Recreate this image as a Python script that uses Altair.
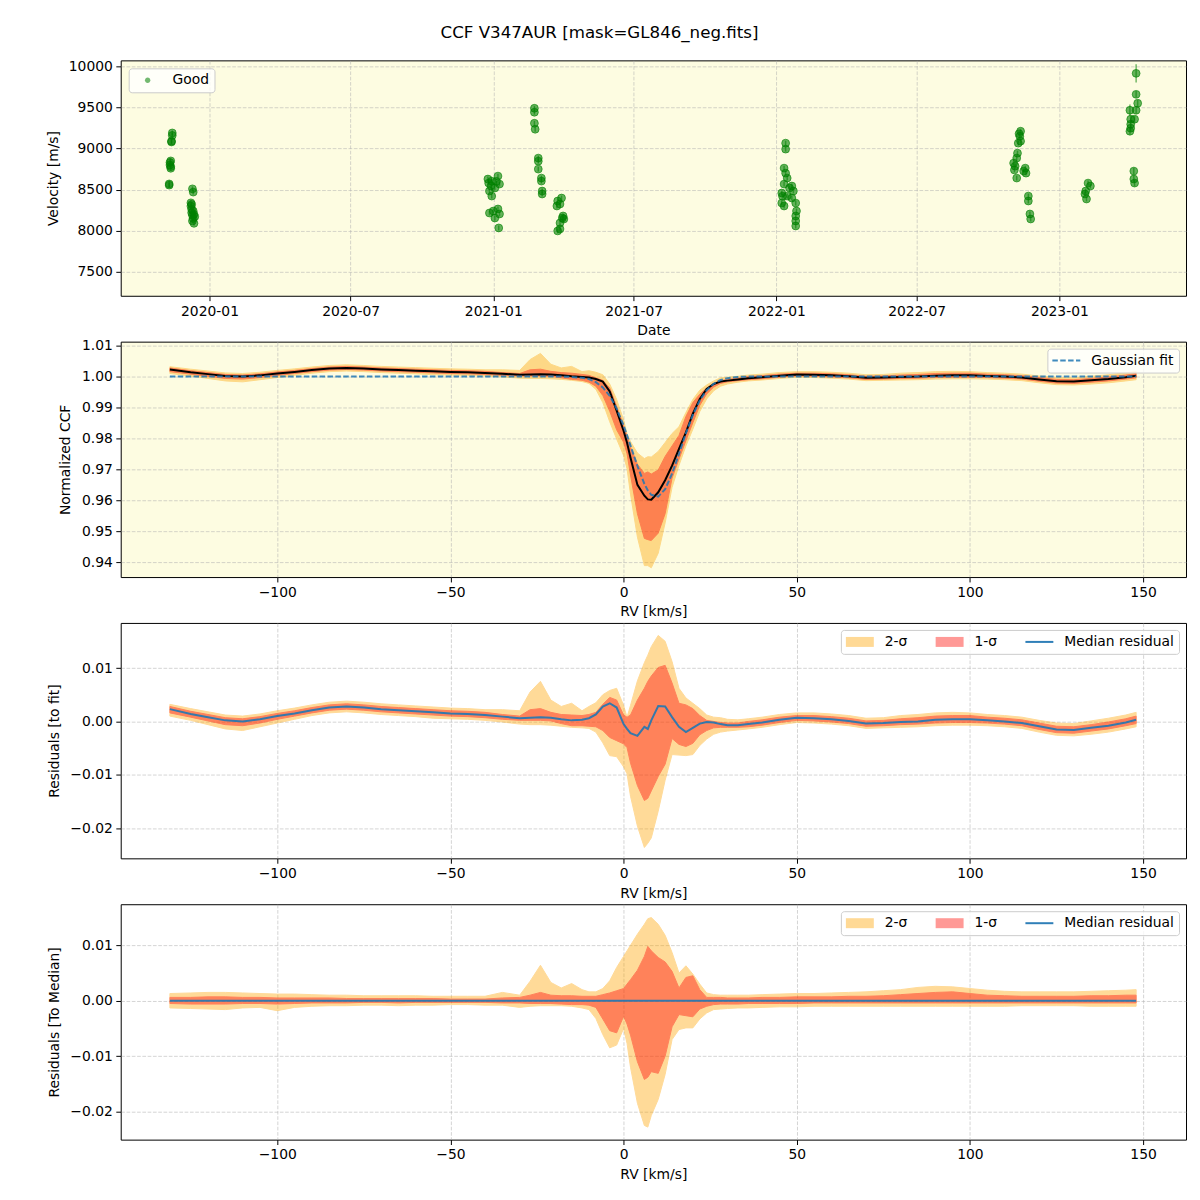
import altair as alt
import pandas as pd

TITLE = "CCF V347AUR [mask=GL846_neg.fits]"

# ---------------- Panel 1: velocity time series ----------------
rv_dates = [
    "2019-11-10", "2019-11-10", "2019-11-11", "2019-11-11", "2019-11-12", "2019-11-12", "2019-11-12",
    "2019-11-13", "2019-11-13", "2019-11-14", "2019-11-14",
    "2019-12-10", "2019-12-11", "2019-12-08", "2019-12-08", "2019-12-09", "2019-12-09", "2019-12-10",
    "2019-12-11", "2019-12-10", "2019-12-12", "2019-12-12", "2019-12-09", "2019-12-13", "2019-12-11",
    "2020-12-25", "2020-12-30", "2021-01-07", "2021-01-03", "2020-12-27", "2020-12-30", "2021-01-09",
    "2021-01-01", "2021-01-07", "2021-01-09", "2021-01-03", "2021-01-08", "2020-12-27", "2020-12-26",
    "2021-01-05", "2020-12-29",
    "2021-02-23", "2021-02-23", "2021-02-23", "2021-02-24",
    "2021-02-28", "2021-02-28", "2021-02-28", "2021-03-04", "2021-03-04", "2021-03-05", "2021-03-05",
    "2021-03-25", "2021-03-30", "2021-03-24", "2021-03-28", "2021-03-31", "2021-03-28", "2021-03-28",
    "2021-04-02", "2021-03-25", "2021-04-01",
    "2022-01-13", "2022-01-13", "2022-01-11", "2022-01-13", "2022-01-15", "2022-01-11", "2022-01-21",
    "2022-01-23", "2022-01-08", "2022-01-15", "2022-01-21", "2022-01-08", "2022-01-26", "2022-01-11",
    "2022-01-27", "2022-01-26", "2022-01-26", "2022-01-26", "2022-01-18", "2022-01-09",
    "2022-11-12", "2022-11-11", "2022-11-12", "2022-11-09", "2022-11-08", "2022-11-07", "2022-11-03",
    "2022-11-05", "2022-11-07", "2022-11-18", "2022-11-19", "2022-11-16", "2022-11-22", "2022-11-22",
    "2022-11-24", "2022-11-25", "2022-11-10", "2022-11-04",
    "2023-02-07", "2023-02-10", "2023-02-04", "2023-02-03", "2023-02-05",
    "2023-04-10", "2023-04-10", "2023-04-12", "2023-04-10", "2023-04-02", "2023-04-08", "2023-04-03",
    "2023-04-03", "2023-04-02", "2023-04-03", "2023-04-07", "2023-04-07", "2023-04-08",
]
rv_vels = [
    8570, 8555, 8830, 8800, 8780, 8850, 8760, 9090, 9080, 9190, 9160,
    8510, 8470, 8340, 8300, 8260, 8220, 8190, 8150, 8120, 8090, 8200, 8320, 8170, 8240,
    8629, 8604, 8665, 8520, 8483, 8422, 8568, 8240, 8265, 8204, 8155, 8034, 8216, 8580, 8600, 8545,
    9490, 9442, 9308, 9235,
    8884, 8847, 8750, 8641, 8604, 8483, 8447,
    8362, 8398, 8301, 8325, 8155, 8095, 8022, 8143, 7998, 8180,
    9066, 8993, 8762, 8701, 8641, 8568, 8544, 8483, 8459, 8422, 8398, 8337, 8337, 8301,
    8240, 8180, 8119, 8058, 8520, 8420,
    9211, 9150, 9090, 9066, 8944, 8884, 8823, 8786, 8641, 8762, 8701, 8726, 8422, 8362,
    8204, 8143, 9180, 8740,
    8580, 8544, 8483, 8447, 8386,
    9915, 9660, 9551, 9466, 9466, 9357, 9357, 9296, 9211, 9248, 8726, 8629, 8580,
]
rv_errs = [
    45, 30, 50, 30, 30, 30, 30, 30, 30, 30, 30,
    30, 30, 30, 30, 30, 30, 30, 30, 30, 30, 30, 30, 30, 30,
    30, 30, 30, 30, 30, 30, 30, 30, 30, 30, 30, 30, 30, 30, 30, 30,
    30, 30, 30, 30,
    30, 30, 30, 30, 30, 30, 30,
    30, 30, 30, 30, 30, 30, 30, 30, 30, 30,
    30, 30, 30, 30, 30, 30, 30, 30, 30, 30, 30, 30, 30, 30,
    30, 30, 30, 30, 30, 30,
    30, 30, 30, 30, 30, 30, 30, 30, 30, 30, 30, 30, 30, 30,
    30, 30, 30, 30,
    30, 30, 30, 30, 30,
    110, 40, 40, 40, 70, 40, 40, 40, 40, 40, 40, 40, 40,
]
date_ticks = [(2020, 1), (2020, 7), (2021, 1), (2021, 7), (2022, 1), (2022, 7), (2023, 1)]
vel_ticks = [7500, 8000, 8500, 9000, 9500, 10000]

# ---------------- CCF panels: common RV grid ----------------
rv_grid = [
    -131, -125, -120, -115, -110, -105, -100, -95, -90, -85,
    -80, -75, -70, -65, -60, -55, -50, -45, -40, -35,
    -30, -27, -24, -21, -18, -15, -12, -10, -8, -6,
    -4, -2, 0, 1, 2, 4, 6, 7, 8, 10,
    12, 14, 16, 18, 20, 22, 24, 26, 28, 30,
    33, 36, 40, 45, 50, 55, 60, 65, 70, 75,
    80, 85, 90, 95, 100, 105, 110, 115, 120, 125,
    130, 135, 140, 145, 148,
]

# Panel 2: normalized CCF
p2_fit = [
    1.0000, 1.0000, 1.0000, 1.0000, 1.0000, 1.0000, 1.0000, 1.0000, 1.0000, 1.0000,
    1.0000, 1.0000, 1.0000, 1.0000, 1.0000, 1.0000, 1.0000, 1.0000, 1.0000, 1.0000,
    1.0000, 1.0000, 1.0000, 1.0000, 1.0000, 0.9999, 0.9996, 0.9992, 0.9982, 0.9965,
    0.9938, 0.9897, 0.9842, 0.9810, 0.9777, 0.9711, 0.9653, 0.9632, 0.9618, 0.9612,
    0.9636, 0.9686, 0.9750, 0.9817, 0.9876, 0.9923, 0.9956, 0.9977, 0.9989, 0.9995,
    0.9999, 1.0000, 1.0000, 1.0000, 1.0000, 1.0000, 1.0000, 1.0000, 1.0000, 1.0000,
    1.0000, 1.0000, 1.0000, 1.0000, 1.0000, 1.0000, 1.0000, 1.0000, 1.0000, 1.0000,
    1.0000, 1.0000, 1.0000, 1.0000, 1.0000,
]
p2_med = [
    1.0023, 1.0014, 1.0008, 1.0002, 1.0000, 1.0004, 1.0010, 1.0015, 1.0021, 1.0026,
    1.0028, 1.0026, 1.0023, 1.0021, 1.0019, 1.0017, 1.0015, 1.0014, 1.0012, 1.0009,
    1.0006, 1.0007, 1.0008, 1.0007, 1.0004, 1.0001, 0.9999, 0.9997, 0.9992, 0.9984,
    0.9952, 0.9890, 0.9825, 0.9786, 0.9738, 0.9650, 0.9615, 0.9603, 0.9602, 0.9626,
    0.9665, 0.9712, 0.9766, 0.9820, 0.9880, 0.9928, 0.9960, 0.9976, 0.9984, 0.9987,
    0.9991, 0.9995, 0.9998, 1.0003, 1.0007, 1.0006, 1.0004, 1.0001, 0.9996, 0.9997,
    0.9999, 1.0000, 1.0003, 1.0004, 1.0004, 1.0002, 1.0000, 0.9997, 0.9991, 0.9985,
    0.9984, 0.9988, 0.9992, 0.9998, 1.0003,
]
p2_s2lo = [
    1.0010, 1.0002, 0.9994, 0.9986, 0.9983, 0.9990, 0.9997, 1.0004, 1.0011, 1.0016,
    1.0018, 1.0016, 1.0013, 1.0011, 1.0009, 1.0006, 1.0005, 1.0004, 1.0002, 0.9999,
    0.9995, 0.9994, 0.9994, 0.9993, 0.9991, 0.9988, 0.9984, 0.9978, 0.9959, 0.9916,
    0.9854, 0.9798, 0.9745, 0.9702, 0.9620, 0.9481, 0.9389, 0.9389, 0.9382, 0.9429,
    0.9527, 0.9642, 0.9713, 0.9776, 0.9830, 0.9887, 0.9928, 0.9954, 0.9969, 0.9976,
    0.9982, 0.9986, 0.9989, 0.9994, 0.9998, 0.9997, 0.9995, 0.9992, 0.9987, 0.9988,
    0.9989, 0.9990, 0.9992, 0.9993, 0.9993, 0.9992, 0.9990, 0.9987, 0.9980, 0.9974,
    0.9973, 0.9976, 0.9980, 0.9986, 0.9990,
]
p2_s1lo = [
    1.0016, 1.0008, 1.0001, 0.9994, 0.9992, 0.9997, 1.0004, 1.0010, 1.0016, 1.0021,
    1.0023, 1.0021, 1.0018, 1.0016, 1.0014, 1.0012, 1.0010, 1.0009, 1.0007, 1.0004,
    1.0002, 1.0002, 1.0002, 1.0001, 0.9996, 0.9991, 0.9988, 0.9982, 0.9969, 0.9939,
    0.9888, 0.9828, 0.9788, 0.9751, 0.9682, 0.9557, 0.9477, 0.9473, 0.9470, 0.9494,
    0.9557, 0.9672, 0.9733, 0.9793, 0.9851, 0.9907, 0.9944, 0.9966, 0.9978, 0.9983,
    0.9987, 0.9990, 0.9993, 0.9998, 1.0002, 1.0001, 0.9999, 0.9996, 0.9991, 0.9992,
    0.9994, 0.9995, 0.9997, 0.9998, 0.9998, 0.9997, 0.9995, 0.9992, 0.9985, 0.9979,
    0.9978, 0.9982, 0.9986, 0.9992, 0.9996,
]
p2_s1hi = [
    1.0028, 1.0019, 1.0013, 1.0007, 1.0005, 1.0009, 1.0015, 1.0020, 1.0026, 1.0031,
    1.0033, 1.0031, 1.0028, 1.0026, 1.0024, 1.0022, 1.0020, 1.0019, 1.0017, 1.0013,
    1.0010, 1.0022, 1.0024, 1.0017, 1.0013, 1.0011, 1.0007, 1.0004, 0.9996, 0.9988,
    0.9963, 0.9904, 0.9842, 0.9808, 0.9772, 0.9717, 0.9687, 0.9692, 0.9685, 0.9698,
    0.9742, 0.9776, 0.9810, 0.9871, 0.9916, 0.9943, 0.9963, 0.9978, 0.9987, 0.9991,
    0.9995, 1.0000, 1.0003, 1.0008, 1.0011, 1.0011, 1.0009, 1.0006, 1.0001, 1.0002,
    1.0005, 1.0007, 1.0010, 1.0011, 1.0011, 1.0008, 1.0006, 1.0003, 0.9997, 0.9991,
    0.9990, 0.9994, 0.9999, 1.0005, 1.0010,
]
p2_s2hi = [
    1.0032, 1.0024, 1.0018, 1.0012, 1.0010, 1.0014, 1.0020, 1.0025, 1.0031, 1.0036,
    1.0038, 1.0036, 1.0033, 1.0031, 1.0029, 1.0027, 1.0025, 1.0024, 1.0022, 1.0022,
    1.0020, 1.0055, 1.0075, 1.0040, 1.0028, 1.0033, 1.0016, 1.0019, 1.0014, 1.0006,
    0.9976, 0.9926, 0.9860, 0.9815, 0.9790, 0.9753, 0.9735, 0.9741, 0.9740, 0.9758,
    0.9787, 0.9816, 0.9838, 0.9884, 0.9926, 0.9956, 0.9973, 0.9986, 0.9996, 0.9998,
    1.0001, 1.0005, 1.0008, 1.0013, 1.0016, 1.0016, 1.0014, 1.0011, 1.0006, 1.0007,
    1.0011, 1.0013, 1.0016, 1.0017, 1.0016, 1.0013, 1.0011, 1.0008, 1.0002, 0.9997,
    0.9996, 1.0001, 1.0006, 1.0012, 1.0017,
]

# Panel 3: residuals to fit
p3_med = [
    0.0023, 0.0014, 0.0008, 0.0002, 0.0000, 0.0004, 0.0010, 0.0015, 0.0021, 0.0026,
    0.0028, 0.0026, 0.0023, 0.0021, 0.0019, 0.0017, 0.0015, 0.0014, 0.0012, 0.0009,
    0.0006, 0.0007, 0.0008, 0.0007, 0.0004, 0.0002, 0.0003, 0.0006, 0.0013, 0.0028,
    0.0034, 0.0026, -0.0005, -0.0014, -0.0022, -0.0027, -0.0010, -0.0014, 0.0002, 0.0029,
    0.0028, 0.0008, -0.0010, -0.0020, -0.0012, -0.0004, -0.0001, -0.0002, -0.0005, -0.0007,
    -0.0007, -0.0005, -0.0002, 0.0003, 0.0007, 0.0006, 0.0004, 0.0001, -0.0004, -0.0003,
    -0.0001, 0.0000, 0.0003, 0.0004, 0.0004, 0.0002, 0.0000, -0.0003, -0.0009, -0.0015,
    -0.0016, -0.0012, -0.0008, -0.0002, 0.0003,
]
p3_s2lo = [
    0.0010, 0.0002, -0.0006, -0.0014, -0.0017, -0.0010, -0.0003, 0.0004, 0.0011, 0.0016,
    0.0018, 0.0016, 0.0013, 0.0011, 0.0009, 0.0006, 0.0005, 0.0004, 0.0002, -0.0001,
    -0.0005, -0.0006, -0.0006, -0.0007, -0.0009, -0.0011, -0.0012, -0.0013, -0.0020, -0.0040,
    -0.0064, -0.0066, -0.0085, -0.0098, -0.0140, -0.0196, -0.0236, -0.0228, -0.0218, -0.0168,
    -0.0110, -0.0062, -0.0063, -0.0064, -0.0062, -0.0045, -0.0033, -0.0024, -0.0020, -0.0018,
    -0.0016, -0.0014, -0.0011, -0.0006, -0.0002, -0.0003, -0.0005, -0.0008, -0.0013, -0.0012,
    -0.0011, -0.0010, -0.0008, -0.0007, -0.0007, -0.0008, -0.0010, -0.0013, -0.0020, -0.0026,
    -0.0027, -0.0024, -0.0020, -0.0014, -0.0010,
]
p3_s1lo = [
    0.0016, 0.0008, 0.0001, -0.0006, -0.0008, -0.0003, 0.0004, 0.0010, 0.0016, 0.0021,
    0.0023, 0.0021, 0.0018, 0.0016, 0.0014, 0.0012, 0.0010, 0.0009, 0.0007, 0.0004,
    0.0002, 0.0002, 0.0002, 0.0001, -0.0004, -0.0008, -0.0008, -0.0009, -0.0010, -0.0017,
    -0.0030, -0.0036, -0.0042, -0.0049, -0.0078, -0.0120, -0.0148, -0.0144, -0.0130, -0.0103,
    -0.0080, -0.0032, -0.0043, -0.0047, -0.0041, -0.0025, -0.0017, -0.0012, -0.0011, -0.0011,
    -0.0011, -0.0010, -0.0007, -0.0002, 0.0002, 0.0001, -0.0001, -0.0004, -0.0009, -0.0008,
    -0.0006, -0.0005, -0.0003, -0.0002, -0.0002, -0.0003, -0.0005, -0.0008, -0.0015, -0.0021,
    -0.0022, -0.0018, -0.0014, -0.0008, -0.0004,
]
p3_s1hi = [
    0.0028, 0.0019, 0.0013, 0.0007, 0.0005, 0.0009, 0.0015, 0.0020, 0.0026, 0.0031,
    0.0033, 0.0031, 0.0028, 0.0026, 0.0024, 0.0022, 0.0020, 0.0019, 0.0017, 0.0013,
    0.0010, 0.0022, 0.0024, 0.0017, 0.0013, 0.0012, 0.0011, 0.0013, 0.0017, 0.0032,
    0.0045, 0.0040, 0.0012, 0.0008, 0.0012, 0.0040, 0.0062, 0.0075, 0.0085, 0.0101,
    0.0105, 0.0072, 0.0034, 0.0031, 0.0024, 0.0011, 0.0002, 0.0000, -0.0002, -0.0003,
    -0.0003, 0.0000, 0.0003, 0.0008, 0.0011, 0.0011, 0.0009, 0.0006, 0.0001, 0.0002,
    0.0005, 0.0007, 0.0010, 0.0011, 0.0011, 0.0008, 0.0006, 0.0003, -0.0003, -0.0009,
    -0.0010, -0.0006, -0.0001, 0.0005, 0.0010,
]
p3_s2hi = [
    0.0032, 0.0024, 0.0018, 0.0012, 0.0010, 0.0014, 0.0020, 0.0025, 0.0031, 0.0036,
    0.0038, 0.0036, 0.0033, 0.0031, 0.0029, 0.0027, 0.0025, 0.0024, 0.0022, 0.0022,
    0.0020, 0.0055, 0.0075, 0.0040, 0.0028, 0.0034, 0.0020, 0.0028, 0.0035, 0.0050,
    0.0058, 0.0062, 0.0030, 0.0008, 0.0030, 0.0076, 0.0110, 0.0124, 0.0140, 0.0161,
    0.0150, 0.0112, 0.0062, 0.0044, 0.0034, 0.0024, 0.0012, 0.0008, 0.0007, 0.0004,
    0.0003, 0.0005, 0.0008, 0.0013, 0.0016, 0.0016, 0.0014, 0.0011, 0.0006, 0.0007,
    0.0011, 0.0013, 0.0016, 0.0017, 0.0016, 0.0013, 0.0011, 0.0008, 0.0002, -0.0003,
    -0.0004, 0.0001, 0.0006, 0.0012, 0.0017,
]

# Panel 4: residuals to median
p4_med = [
    0, 0, 0, 0, 0, 0, 0, 0, 0, 0,
    0, 0, 0, 0, 0, 0, 0, 0, 0, 0,
    0, 0, 0, 0, 0, 0, 0, 0, 0, 0,
    0, 0, 0, 0, 0, 0, 0, 0, 0, 0,
    0, 0, 0, 0, 0, 0, 0, 0, 0, 0,
    0, 0, 0, 0, 0, 0, 0, 0, 0, 0,
    0, 0, 0, 0, 0, 0, 0, 0, 0, 0,
    0, 0, 0, 0, 0,
]
p4_s2lo = [
    -0.0013, -0.0014, -0.0015, -0.0016, -0.0013, -0.0012, -0.0018, -0.0012, -0.0010, -0.0009,
    -0.0009, -0.0008, -0.0008, -0.0009, -0.0008, -0.0008, -0.0007, -0.0007, -0.0008, -0.0008,
    -0.0012, -0.0010, -0.0009, -0.0009, -0.0009, -0.0010, -0.0013, -0.0016, -0.0032, -0.0061,
    -0.0085, -0.0080, -0.0050, -0.0077, -0.0120, -0.0185, -0.0225, -0.0228, -0.0207, -0.0178,
    -0.0133, -0.0070, -0.0052, -0.0049, -0.0049, -0.0033, -0.0022, -0.0016, -0.0015, -0.0014,
    -0.0013, -0.0013, -0.0012, -0.0011, -0.0011, -0.0010, -0.0010, -0.0010, -0.0010, -0.0010,
    -0.0010, -0.0010, -0.0010, -0.0010, -0.0010, -0.0010, -0.0010, -0.0009, -0.0009, -0.0009,
    -0.0009, -0.0010, -0.0010, -0.0010, -0.0010,
]
p4_s1lo = [
    -0.0005, -0.0006, -0.0006, -0.0006, -0.0005, -0.0005, -0.0006, -0.0005, -0.0004, -0.0004,
    -0.0004, -0.0003, -0.0003, -0.0004, -0.0003, -0.0003, -0.0003, -0.0003, -0.0003, -0.0004,
    -0.0004, -0.0005, -0.0005, -0.0005, -0.0006, -0.0007, -0.0007, -0.0008, -0.0012, -0.0033,
    -0.0054, -0.0058, -0.0028, -0.0042, -0.0062, -0.0110, -0.0142, -0.0138, -0.0128, -0.0131,
    -0.0100, -0.0047, -0.0025, -0.0027, -0.0029, -0.0015, -0.0010, -0.0007, -0.0006, -0.0006,
    -0.0006, -0.0005, -0.0005, -0.0005, -0.0005, -0.0004, -0.0004, -0.0004, -0.0004, -0.0004,
    -0.0004, -0.0004, -0.0004, -0.0004, -0.0004, -0.0004, -0.0004, -0.0004, -0.0004, -0.0004,
    -0.0004, -0.0004, -0.0004, -0.0004, -0.0004,
]
p4_s1hi = [
    0.0006, 0.0006, 0.0007, 0.0007, 0.0006, 0.0006, 0.0005, 0.0005, 0.0005, 0.0005,
    0.0004, 0.0004, 0.0004, 0.0004, 0.0004, 0.0004, 0.0003, 0.0003, 0.0003, 0.0005,
    0.0006, 0.0010, 0.0015, 0.0010, 0.0009, 0.0009, 0.0008, 0.0008, 0.0008, 0.0011,
    0.0014, 0.0018, 0.0022, 0.0030, 0.0038, 0.0055, 0.0080, 0.0098, 0.0090, 0.0078,
    0.0070, 0.0053, 0.0023, 0.0042, 0.0045, 0.0020, 0.0006, 0.0006, 0.0006, 0.0005,
    0.0005, 0.0005, 0.0006, 0.0006, 0.0007, 0.0007, 0.0007, 0.0008, 0.0008, 0.0009,
    0.0011, 0.0013, 0.0015, 0.0016, 0.0013, 0.0010, 0.0009, 0.0008, 0.0008, 0.0008,
    0.0008, 0.0009, 0.0009, 0.0010, 0.0010,
]
p4_s2hi = [
    0.0013, 0.0014, 0.0015, 0.0015, 0.0014, 0.0013, 0.0012, 0.0012, 0.0011, 0.0010,
    0.0010, 0.0009, 0.0009, 0.0009, 0.0009, 0.0008, 0.0008, 0.0008, 0.0008, 0.0015,
    0.0010, 0.0035, 0.0064, 0.0033, 0.0023, 0.0031, 0.0020, 0.0016, 0.0016, 0.0022,
    0.0036, 0.0060, 0.0080, 0.0090, 0.0100, 0.0120, 0.0138, 0.0148, 0.0150, 0.0138,
    0.0118, 0.0087, 0.0050, 0.0063, 0.0048, 0.0030, 0.0014, 0.0011, 0.0010, 0.0010,
    0.0010, 0.0010, 0.0011, 0.0012, 0.0013, 0.0013, 0.0014, 0.0015, 0.0016, 0.0018,
    0.0020, 0.0024, 0.0026, 0.0025, 0.0022, 0.0019, 0.0017, 0.0016, 0.0016, 0.0016,
    0.0016, 0.0017, 0.0018, 0.0019, 0.0020,
]

rv_ticks = [-100, -50, 0, 50, 100, 150]
RV_DOMAIN = [-145.2, 162.4]

FONT = "DejaVu Sans"
FS = 13.9
ORANGE = "#ffa500"
RED = "#ff0000"
BLUE = "#1f77b4"

# legend symbols: 28 px wide handles drawn from the left of each entry
RECT = "M-1.39,-1H4.21V1H-1.39Z"
LINE = "M-1.39,-0.2H4.21V0.2H-1.39Z"
STROKE = "M-1.39,0H4.21"
DOT = "M1.95,0A0.54,0.54 0 1,1 0.87,0A0.54,0.54 0 1,1 1.95,0Z"

legend_common = dict(
    title=None, fillColor="rgba(255,255,255,0.8)", strokeColor="#cccccc",
    cornerRadius=3, padding=5, labelFont=FONT, labelFontSize=FS, labelColor="black",
    symbolSize=100, labelOffset=25,
)

# ---------------- Panel 1 ----------------
df1 = pd.DataFrame({"date": rv_dates, "vel": rv_vels, "err": rv_errs})
df1["lo"] = df1["vel"] - df1["err"]
df1["hi"] = df1["vel"] + df1["err"]
df1["key"] = "Good"

x1 = alt.X(
    "date:T",
    scale=alt.Scale(type="utc", nice=False,
                    domain=[alt.DateTime(year=2019, month=9, date=8, hours=12, utc=True),
                            alt.DateTime(year=2023, month=6, date=13, hours=8, utc=True)]),
    axis=alt.Axis(title="Date", format="%Y-%m",
                  values=[alt.DateTime(year=y, month=m, date=1, utc=True) for (y, m) in date_ticks],
                  titleY=35, titleBaseline="middle"),
)
ysc1 = alt.Scale(domain=[7209, 10073], nice=False, zero=False)
yax1 = alt.Axis(title="Velocity [m/s]", values=vel_ticks, format="d", titleX=-67, titleBaseline="middle")

err1 = alt.Chart(df1).mark_rule(color="green", opacity=0.55, strokeWidth=1.5).encode(
    x=x1, y=alt.Y("lo:Q", scale=ysc1, axis=yax1), y2="hi:Q"
)
pts1 = alt.Chart(df1).mark_circle(
    size=62, opacity=1, fillOpacity=0.6, stroke="green", strokeOpacity=0.6, strokeWidth=1
).encode(
    x=x1, y=alt.Y("vel:Q", scale=ysc1, axis=yax1),
    color=alt.Color("key:N", scale=alt.Scale(domain=["Good"], range=["green"]),
                    legend=alt.Legend(orient="top-left", offset=8, symbolType=DOT,
                                      symbolOpacity=0.55, symbolStrokeWidth=0, **legend_common)),
)
panel1 = alt.layer(err1, pts1).properties(width=1068, height=236)


def rv_x():
    return alt.X("rv:Q", scale=alt.Scale(domain=RV_DOMAIN, nice=False, zero=False),
                 axis=alt.Axis(title="RV [km/s]", values=rv_ticks, format="d",
                               titleY=35, titleBaseline="middle"))


# ---------------- Panel 2 ----------------
df2 = pd.DataFrame({"rv": rv_grid, "med": p2_med, "fit": p2_fit, "s2lo": p2_s2lo,
                    "s2hi": p2_s2hi, "s1lo": p2_s1lo, "s1hi": p2_s1hi})
df2["fkey"] = "Gaussian fit"
ysc2 = alt.Scale(domain=[0.9352, 1.0113], nice=False, zero=False)
yax2 = alt.Axis(title="Normalized CCF", values=[0.94, 0.95, 0.96, 0.97, 0.98, 0.99, 1.00, 1.01],
                format=".2f", titleX=-55, titleBaseline="middle")
b2 = alt.Chart(df2)
p2_a2 = b2.mark_area(fill=ORANGE, stroke=ORANGE, strokeWidth=1, opacity=0.4).encode(
    x=rv_x(), y=alt.Y("s2lo:Q", scale=ysc2, axis=yax2), y2="s2hi:Q")
p2_a1 = b2.mark_area(fill=RED, stroke=RED, strokeWidth=1, opacity=0.4).encode(
    x=rv_x(), y=alt.Y("s1lo:Q", scale=ysc2, axis=yax2), y2="s1hi:Q")
p2_med_l = b2.mark_line(color="black", strokeWidth=2).encode(
    x=rv_x(), y=alt.Y("med:Q", scale=ysc2, axis=yax2))
p2_fit_l = b2.mark_line(strokeWidth=2, strokeDash=[5.5, 2.4], opacity=0.85).encode(
    x=rv_x(), y=alt.Y("fit:Q", scale=ysc2, axis=yax2),
    color=alt.Color("fkey:N", scale=alt.Scale(domain=["Gaussian fit"], range=[BLUE]),
                    legend=alt.Legend(orient="top-right", offset=7, symbolType=STROKE,
                                      symbolDash=[5.5, 2.4], symbolStrokeWidth=2,
                                      symbolOpacity=0.85, **legend_common)),
)
panel2 = alt.layer(p2_a2, p2_a1, p2_med_l, p2_fit_l).properties(width=1068, height=236)

# ---------------- Panels 3 and 4 ----------------
KEYS = ["2-σ", "1-σ", "Median residual"]
LEG_COLORS = ["#ffd995", "#ff9996", "#2f7fb8"]
legend_keys = pd.DataFrame({"key": KEYS})


def resid_panel(med, s2lo, s1lo, s1hi, s2hi, ydomain, ytitle, titlex):
    df = pd.DataFrame({"rv": rv_grid, "med": med, "s2lo": s2lo, "s1lo": s1lo,
                       "s1hi": s1hi, "s2hi": s2hi})
    ysc = alt.Scale(domain=ydomain, nice=False, zero=False)
    yax = alt.Axis(title=ytitle, values=[-0.02, -0.01, 0.0, 0.01], format=".2f",
                   titleX=titlex, titleBaseline="middle")
    b = alt.Chart(df)
    a2 = b.mark_area(fill=ORANGE, stroke=ORANGE, strokeWidth=1, opacity=0.4).encode(
        x=rv_x(), y=alt.Y("s2lo:Q", scale=ysc, axis=yax), y2="s2hi:Q")
    a1 = b.mark_area(fill=RED, stroke=RED, strokeWidth=1, opacity=0.4).encode(
        x=rv_x(), y=alt.Y("s1lo:Q", scale=ysc, axis=yax), y2="s1hi:Q")
    ln = b.mark_line(color=BLUE, strokeWidth=2, opacity=0.9).encode(
        x=rv_x(), y=alt.Y("med:Q", scale=ysc, axis=yax))
    leg = alt.Legend(orient="top-right", offset=7, direction="horizontal", columns=3,
                     columnPadding=28, symbolOpacity=1, symbolStrokeWidth=0, **legend_common)
    keys = alt.Chart(legend_keys).mark_point(filled=True, opacity=0).encode(
        color=alt.Color("key:N", scale=alt.Scale(domain=KEYS, range=LEG_COLORS), legend=leg),
        shape=alt.Shape("key:N", scale=alt.Scale(domain=KEYS, range=[RECT, RECT, LINE]), legend=leg),
    )
    return alt.layer(a2, a1, ln, keys).properties(width=1068, height=236)


panel3 = resid_panel(p3_med, p3_s2lo, p3_s1lo, p3_s1hi, p3_s2hi,
                     [-0.02563, 0.01844], "Residuals [to fit]", -66)
panel4 = resid_panel(p4_med, p4_s2lo, p4_s1lo, p4_s1hi, p4_s2hi,
                     [-0.02506, 0.01741], "Residuals [To Median]", -66)

chart = alt.vconcat(panel1, panel2, panel3, panel4, spacing=46, bounds="flush").resolve_scale(
    x="independent", y="independent", color="independent", shape="independent"
).resolve_legend(color="independent", shape="independent").properties(
    title=alt.TitleParams(TITLE, anchor="middle", font=FONT, fontSize=16.7, fontWeight="normal",
                          color="black", offset=17, dx=-17),
    padding={"left": 38, "top": 15, "right": 5, "bottom": 5},
    background="white",
).configure_view(
    fill="#fdfce1", stroke="black", strokeWidth=1
).configure_axis(
    labelFont=FONT, labelFontSize=FS, labelColor="black",
    titleFont=FONT, titleFontSize=FS, titleFontWeight="normal", titleColor="black",
    tickColor="black", tickSize=4.9, tickWidth=1, domain=False,
    grid=True, gridColor="#b0b0b0", gridOpacity=0.6, gridDash=[3.7, 1.6], gridWidth=0.9,
    labelPadding=3.5, labelOverlap=False,
)

chart.save("out.html", embed_options={"renderer": "svg", "actions": False})
